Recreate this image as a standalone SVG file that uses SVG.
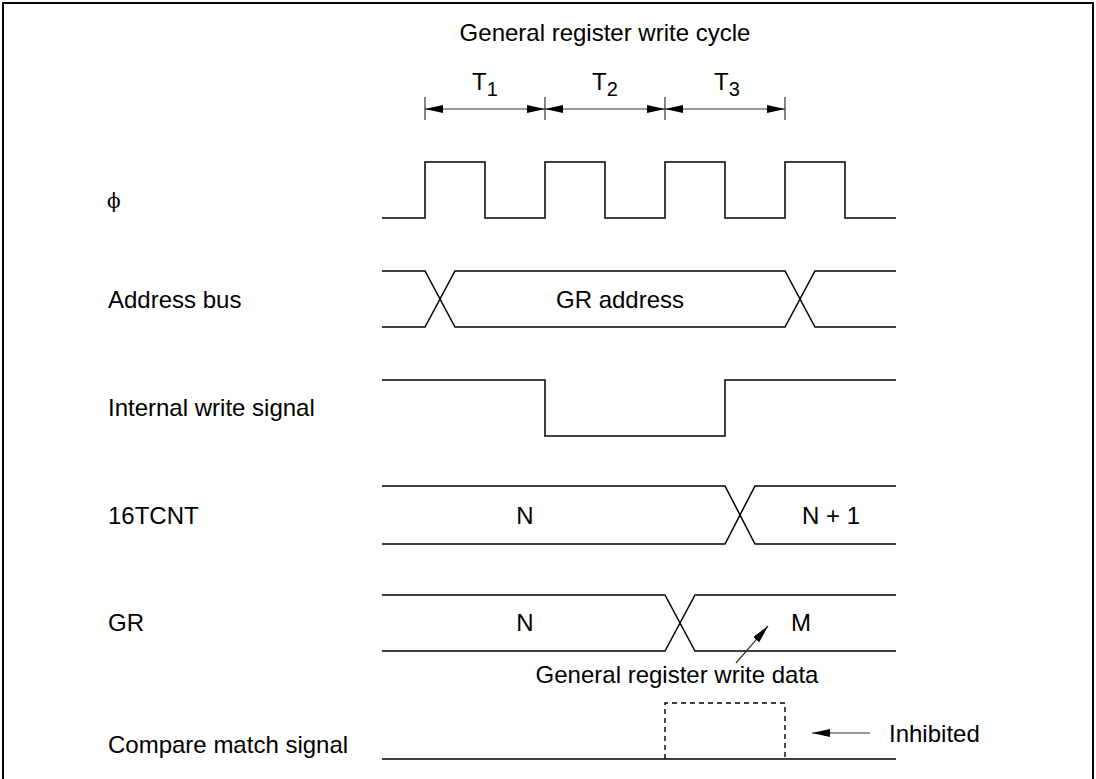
<svg xmlns="http://www.w3.org/2000/svg" width="1096" height="779" viewBox="0 0 1096 779">
<style>
  text { font-family: "Liberation Sans", Arial, sans-serif; font-size: 24px; fill: #000; }
  .sig { fill: none; stroke: #000; stroke-width: 1.5; }
  .dim { fill: none; stroke: #333; stroke-width: 1.2; }
  .dash { fill: none; stroke: #000; stroke-width: 1.4; stroke-dasharray: 5 4; }
  .mid { text-anchor: middle; }
</style>
<defs>
  <marker id="ah" viewBox="0 0 18 8" refX="18" refY="4" markerWidth="18" markerHeight="8" markerUnits="userSpaceOnUse" orient="auto-start-reverse">
    <path d="M0,0 L18,4 L0,8 z" fill="#000"/>
  </marker>
</defs>
<rect width="1096" height="779" fill="#fff"/>
<path d="M3,779 V3 H1093 V779" fill="none" stroke="#000" stroke-width="2"/>

<g id="title">
  <text class="mid" x="605" y="41">General register write cycle</text>
</g>

<g id="periods">
  <text x="472" y="90">T<tspan font-size="20" dy="6">1</tspan></text>
  <text x="592" y="90">T<tspan font-size="20" dy="6">2</tspan></text>
  <text x="714" y="90">T<tspan font-size="20" dy="6">3</tspan></text>
  <path class="dim" d="M425,97 V120 M545,97 V120 M665,97 V120 M785,97 V120"/>
</g>

<g id="phi">
  <text x="107" y="208" style="font-family:'DejaVu Serif',serif;font-size:20px">ϕ</text>
  <path class="sig" d="M382,218 H425 V162 H485 V218 H545 V162 H605 V218 H665 V162 H725 V218 H785 V162 H845 V218 H896"/>
</g>

<g id="address-bus">
  <text x="108" y="308">Address bus</text>
  <path class="sig" d="M382,271 H425 L455,327 H785 L815,271 H896"/>
  <path class="sig" d="M382,327 H425 L455,271 H785 L815,327 H896"/>
  <text class="mid" x="620" y="308">GR address</text>
</g>

<g id="internal-write-signal">
  <text x="108" y="416">Internal write signal</text>
  <path class="sig" d="M382,380 H545 V436 H725 V380 H896"/>
</g>

<g id="tcnt">
  <text x="108" y="524">16TCNT</text>
  <path class="sig" d="M382,486 H725 L755,544 H896"/>
  <path class="sig" d="M382,544 H725 L755,486 H896"/>
  <text class="mid" x="525" y="524">N</text>
  <text class="mid" x="831" y="524">N + 1</text>
</g>

<g id="gr">
  <text x="108" y="631">GR</text>
  <path class="sig" d="M382,595 H665 L695,651 H896"/>
  <path class="sig" d="M382,651 H665 L695,595 H896"/>
  <text class="mid" x="525" y="631">N</text>
  <text class="mid" x="801" y="631">M</text>
  <text class="mid" x="677" y="683">General register write data</text>
</g>

<g id="compare-match-signal">
  <text x="108" y="753">Compare match signal</text>
  <path class="sig" d="M382,759 H896"/>
  <path class="dash" d="M665,759 V703 H785 V759"/>
  <text x="889" y="742">Inhibited</text>
</g>

<g id="connectors">
  <line class="dim" x1="425" y1="109" x2="545" y2="109" marker-start="url(#ah)" marker-end="url(#ah)"/>
  <line class="dim" x1="545" y1="109" x2="665" y2="109" marker-start="url(#ah)" marker-end="url(#ah)"/>
  <line class="dim" x1="665" y1="109" x2="785" y2="109" marker-start="url(#ah)" marker-end="url(#ah)"/>
  <line class="dim" x1="736" y1="663" x2="768" y2="626" marker-end="url(#ah)"/>
  <line class="dim" x1="870" y1="733" x2="812" y2="733" marker-end="url(#ah)"/>
</g>
</svg>
